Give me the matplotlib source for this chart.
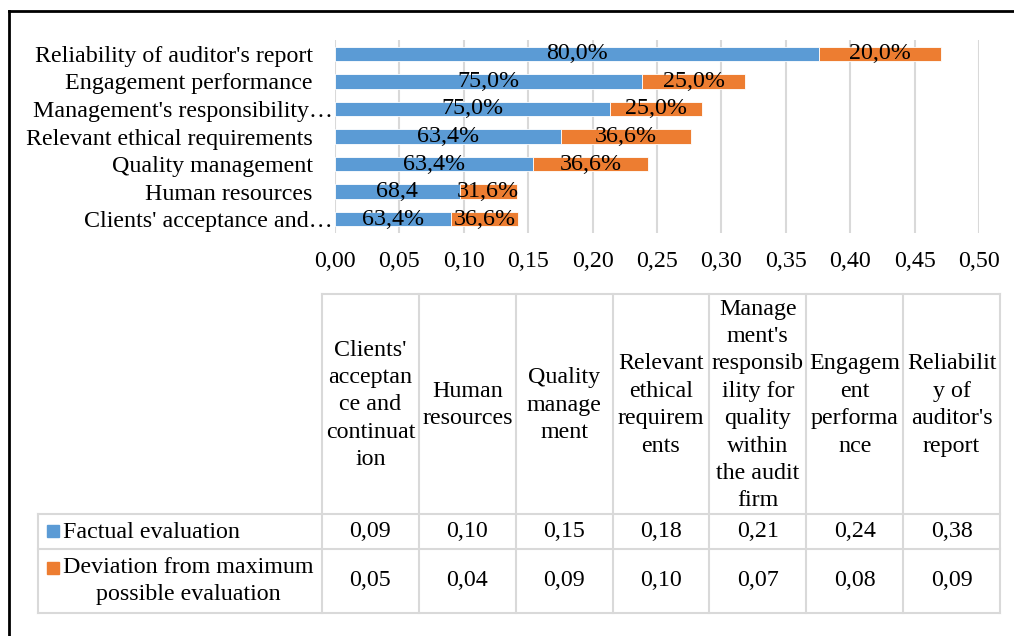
import matplotlib.pyplot as plt
import matplotlib.transforms as mtransforms
import numpy as np

# chart data (bottom to top, as in the data table)
categories = ["Clients' acceptance and…", "Human resources", "Quality management",
              "Relevant ethical requirements", "Management's responsibility…",
              "Engagement performance", "Reliability of auditor's report"]
table_headers = ["Clients'\nacceptan\nce and\ncontinuat\nion", "Human\nresources",
                 "Quality\nmanage\nment", "Relevant\nethical\nrequirem\nents",
                 "Manage\nment's\nresponsib\nility for\nquality\nwithin\nthe audit\nfirm",
                 "Engagem\nent\nperforma\nnce", "Reliabilit\ny of\nauditor's\nreport"]
factual = [0.0897, 0.0967, 0.1536, 0.1751, 0.2134, 0.2387, 0.376]
deviation = [0.0525, 0.0445, 0.0893, 0.1012, 0.0714, 0.0795, 0.0943]
factual_labels = ["63,4%", "68,4", "63,4%", "63,4%", "75,0%", "75,0%", "80,0%"]
deviation_labels = ["36,6%", "31,6%", "36,6%", "36,6%", "25,0%", "25,0%", "20,0%"]
series_names = ["Factual evaluation", "Deviation from maximum\npossible evaluation"]
xticks = [0.0, 0.05, 0.10, 0.15, 0.20, 0.25, 0.30, 0.35, 0.40, 0.45, 0.50]

blue = '#5b9bd5'
orange = '#ed7d31'
grid_c = '#d9d9d9'
plt.rcParams['font.family'] = ['Liberation Serif', 'DejaVu Serif']
fs = 17.3

W, H = 1014, 636
fig = plt.figure(figsize=(W / 100, H / 100), dpi=100)


def fx(px):
    return px / W


def fy(py):
    return 1 - py / H


# --- bar chart ---
ax = fig.add_axes([fx(335), fy(233), fx(979) - fx(335), fy(40) - fy(233)])
y = np.arange(len(categories))
ax.barh(y, factual, height=0.52, color=blue, edgecolor='white', linewidth=0.6, zorder=2)
ax.barh(y, deviation, left=factual, height=0.52, color=orange, edgecolor='white',
        linewidth=0.6, zorder=2)
for i in range(len(categories)):
    ax.text(factual[i] / 2, y[i], factual_labels[i], ha='center', va='center',
            fontsize=fs, zorder=3)
    ax.text(factual[i] + deviation[i] / 2, y[i], deviation_labels[i], ha='center',
            va='center', fontsize=fs, zorder=3)

ax.set_xlim(0, 0.5)
ax.set_ylim(-0.5, len(categories) - 0.5)
ax.set_xticks(xticks)
ax.set_xticklabels([f"{t:.2f}".replace('.', ',') for t in xticks], fontsize=fs)
ax.set_yticks(y)
ax.set_yticklabels(categories, fontsize=fs)
ax.tick_params(length=0)
ax.tick_params(axis='y', pad=16)
ax.tick_params(axis='x', pad=13)
for s in ax.spines.values():
    s.set_visible(False)
ax.grid(axis='x', color=grid_c, linewidth=1.5, zorder=0)
ax.set_axisbelow(True)

# truncated labels run right up to the plot area, like Excel does
shift = mtransforms.ScaledTranslation(0.2, 0, fig.dpi_scale_trans)
for lab in ax.get_yticklabels():
    if lab.get_text().endswith('…'):
        lab.set_transform(lab.get_transform() + shift)

# --- data table ---
col_edges = [322 + 96.85 * k for k in range(8)]
row_edges = [294, 514, 549, 613]
legend_left = 38


def hline(x0, x1, yy):
    fig.add_artist(plt.Line2D([fx(x0), fx(x1)], [fy(yy), fy(yy)], color=grid_c, lw=1.5))


def vline(xx, y0, y1):
    fig.add_artist(plt.Line2D([fx(xx), fx(xx)], [fy(y0), fy(y1)], color=grid_c, lw=1.5))


hline(col_edges[0], col_edges[-1], row_edges[0])
for r in row_edges[1:]:
    hline(legend_left, col_edges[-1], r)
for c in col_edges:
    vline(c, row_edges[0], row_edges[-1])
vline(legend_left, row_edges[1], row_edges[-1])

for k, head in enumerate(table_headers):
    cx = (col_edges[k] + col_edges[k + 1]) / 2
    fig.text(fx(cx), fy((row_edges[0] + row_edges[1]) / 2 + 1), head, ha='center',
             va='center', fontsize=fs, linespacing=1.4, multialignment='center')

rows = [factual, deviation]
for r, vals in enumerate(rows):
    cy = (row_edges[r + 1] + row_edges[r + 2]) / 2
    for k, v in enumerate(vals):
        cx = (col_edges[k] + col_edges[k + 1]) / 2
        fig.text(fx(cx), fy(cy), f"{v:.2f}".replace('.', ','), ha='center', va='center',
                 fontsize=fs)

# legend keys inside the table
fig.add_artist(plt.Rectangle((fx(47), fy(537)), fx(12), fy(0) - fy(12), color=blue,
                             transform=fig.transFigure))
fig.text(fx(63), fy(532), series_names[0], ha='left', va='center', fontsize=fs)
fig.add_artist(plt.Rectangle((fx(47), fy(574)), fx(12), fy(0) - fy(12), color=orange,
                             transform=fig.transFigure))
fig.text(fx(188), fy(581), series_names[1], ha='center', va='center', fontsize=fs,
         linespacing=1.35, multialignment='center')

# outer frame (top and left edges)
fig.add_artist(plt.Line2D([fx(9), fx(W)], [fy(11), fy(11)], color='black', lw=2))
fig.add_artist(plt.Line2D([fx(9), fx(9)], [fy(11), fy(H)], color='black', lw=2))

fig.savefig('out.png', dpi=100)
